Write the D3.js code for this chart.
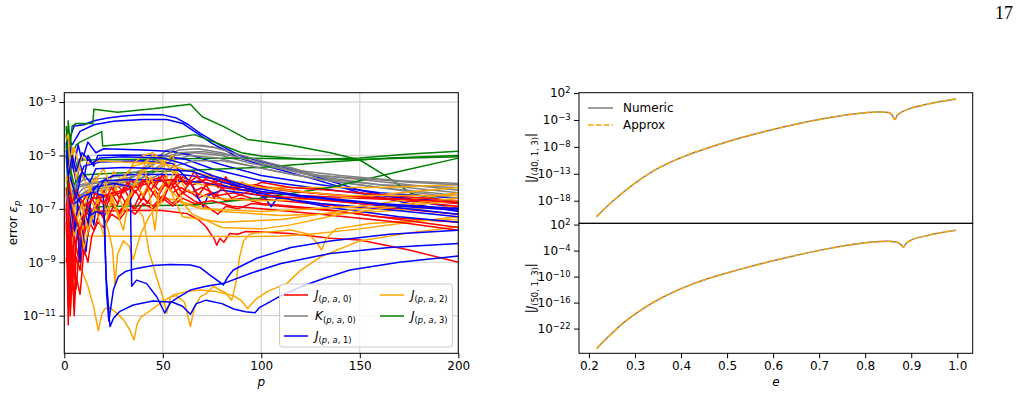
<!DOCTYPE html>
<html>
<head>
<meta charset="utf-8">
<script src="https://cdn.jsdelivr.net/npm/d3@7"></script>
<style>
  body { margin: 0; background: #fff; }
  svg { font-family: "DejaVu Sans", sans-serif; }
</style>
</head>
<body>
<div id="chart"></div>
<script>
"use strict";

// left panel: each line is a list of [p, log10(error)]
var redErr = [
  [[1,-7],[2,-11.35],[2.5,-9.5],[3,-10.2],[4,-8.8],[5,-9.6],[6,-8.2],[8,-7.9],[10,-7.1],[20,-7.08],[35,-7.06],[48.6,-7.05],[62,-7.17],[68,-7.4],[72,-7.67],[74,-7.9],[76,-8.1],[77.4,-8.36],[79,-8.1],[81,-8.25],[84,-7.92],[88,-7.95],[92,-7.85],[97.7,-7.86],[114.6,-7.92],[135,-8.1],[150,-8.17],[175,-8.54],[200,-9.0]],
  [[1,-6.2],[2,-9],[3,-7.5],[4,-10],[5,-8],[7,-8.8],[9,-7.5],[12,-6.8],[15,-7.2],[18,-6.6],[21,-7.0],[24,-6.4],[27,-6.8],[30,-6.2],[33,-6.6],[36,-6.1],[40,-6.5],[44,-6.0],[48,-6.3],[52,-5.9],[56,-6.2],[60,-5.9],[65,-6.1],[70,-6.0],[80,-6.2],[90,-6.3],[100,-6.4],[120,-6.5],[150,-6.6],[180,-6.7],[200,-6.8]],
  [[1,-7.5],[2,-10.5],[3,-8.5],[4,-9.2],[6,-7.2],[8,-8.5],[10,-7.0],[13,-7.3],[16,-6.8],[19,-7.2],[22,-6.6],[26,-7.0],[29,-6.5],[32,-6.9],[36,-6.3],[39,-6.7],[43,-6.2],[47,-6.6],[51,-6.1],[55,-6.4],[59,-6.2],[64,-6.4],[70,-6.2],[78,-6.5],[86,-6.4],[95,-6.6],[110,-6.7],[140,-6.9],[170,-7.0],[200,-7.2]],
  [[2,-8],[3,-11],[4,-9.5],[5,-10.5],[6,-8.8],[8,-9.3],[10,-8.0],[12,-7.4],[15,-7.8],[18,-7.1],[21,-7.5],[25,-6.9],[28,-7.2],[32,-6.6],[35,-7.0],[39,-6.4],[42,-6.8],[46,-6.3],[50,-6.7],[54,-6.0],[58,-6.5],[63,-6.3],[68,-6.6],[74,-6.4],[82,-6.7],[90,-6.6],[100,-6.8],[130,-7.0],[160,-7.3],[200,-7.5]],
  [[1,-6.8],[2,-9.5],[3,-7.8],[5,-9.0],[7,-7.6],[9,-8.4],[11,-7.2],[14,-6.6],[17,-7.0],[20,-6.3],[23,-6.7],[26,-6.0],[30,-6.4],[34,-5.9],[38,-6.3],[42,-5.8],[46,-6.2],[50,-5.7],[55,-6.1],[60,-5.8],[65,-6.0],[72,-5.9],[80,-6.1],[90,-6.3],[105,-6.2],[125,-6.4],[160,-6.6],[200,-6.9]],
  [[2,-7],[3,-9.8],[4,-8.4],[6,-10],[8,-8.1],[10,-8.7],[13,-7.6],[16,-7.0],[20,-7.3],[24,-6.8],[28,-7.1],[32,-6.7],[36,-7.0],[40,-6.6],[45,-6.9],[50,-6.5],[55,-6.8],[60,-6.4],[66,-6.7],[72,-6.9],[78,-7.2],[82,-6.9],[88,-7.0],[95,-6.8],[110,-6.9],[140,-7.1],[170,-7.4],[200,-7.7]],
  [[1,-9],[2,-8],[3,-10.8],[4,-9],[5,-11],[6,-9.5],[8,-10.2],[10,-8.5],[12,-9.0],[14,-8.0],[17,-7.5],[20,-7.7],[24,-7.2],[28,-7.4],[32,-7.0],[36,-7.2],[40,-6.8],[45,-7.0],[50,-6.6],[55,-6.9],[60,-6.6],[66,-6.8],[75,-6.7],[85,-6.9],[100,-7.0],[130,-7.2],[170,-7.5],[200,-7.8]],
  [[3,-6.5],[5,-7.4],[8,-6.9],[12,-6.4],[20,-6.5],[30,-6.3],[40,-6.0],[50,-5.8],[54,-6.3],[58,-5.7],[62,-6.1],[66,-5.6],[70,-6.0],[74,-5.7],[78,-6.2],[82,-5.8],[86,-6.3],[90,-6.0],[95,-6.2],[100,-6.0],[115,-6.2],[135,-6.3],[165,-6.5],[200,-6.7]],
  [[2,-6.0],[4,-6.8],[6,-6.3],[10,-6.9],[15,-6.6],[25,-6.5],[35,-6.2],[45,-6.0],[55,-5.9],[60,-6.4],[64,-6.0],[68,-6.5],[72,-6.1],[76,-6.6],[80,-6.2],[85,-6.6],[92,-6.4],[100,-6.5],[120,-6.6],[150,-6.8],[200,-7.0]],
  [[2,-6.5],[3,-8.8],[5,-7.2],[8,-7.8],[12,-6.9],[16,-6.4],[20,-6.8],[24,-6.2],[28,-6.6],[32,-6.0],[36,-6.4],[40,-5.9],[44,-6.3],[48,-5.8],[53,-6.2],[57,-5.75],[62,-6.1],[67,-5.8],[73,-6.1],[80,-5.9],[88,-6.2],[97,-6.1],[110,-6.3],[140,-6.5],[200,-6.75]]
];

var grayErr = [
  [[1,-6.2],[3,-6.8],[5,-6.4],[8,-6.1],[15,-6.0],[25,-5.95],[35,-5.8],[45,-5.2],[52,-4.8],[60,-4.65],[70,-4.62],[80,-4.75],[90,-5.0],[100,-5.25],[115,-5.45],[135,-5.9],[160,-6.1],[200,-6.2]],
  [[1,-6.5],[3,-7.1],[5,-6.6],[10,-6.2],[20,-6.1],[30,-6.0],[40,-5.6],[50,-5.0],[58,-4.8],[68,-4.75],[80,-4.9],[92,-5.15],[105,-5.4],[125,-5.7],[150,-5.9],[175,-6.1],[200,-6.3]],
  [[2,-6.8],[4,-6.3],[8,-6.5],[15,-6.2],[25,-6.1],[38,-5.9],[48,-5.4],[56,-5.0],[66,-4.9],[80,-5.0],[95,-5.3],[110,-5.5],[130,-5.8],[160,-6.1],[200,-6.4]],
  [[2,-6.0],[5,-6.9],[10,-6.4],[20,-6.3],[32,-6.1],[44,-5.7],[54,-5.2],[64,-5.0],[78,-5.1],[92,-5.35],[108,-5.6],[130,-5.9],[160,-6.2],[200,-6.5]],
  [[3,-7],[6,-6.6],[12,-6.3],[22,-6.2],[34,-6.1],[46,-5.8],[56,-5.4],[66,-5.2],[80,-5.2],[95,-5.4],[115,-5.7],[140,-6.0],[170,-6.3],[200,-6.6]],
  [[4,-6.2],[10,-5.9],[20,-5.85],[30,-5.75],[42,-5.5],[50,-5.1],[58,-4.9],[70,-4.85],[85,-5.0],[100,-5.3],[125,-5.75],[150,-5.85],[175,-6.0],[200,-6.1]],
  [[2,-6.6],[6,-6.2],[14,-6.05],[26,-6.0],[38,-5.7],[48,-5.15],[56,-4.75],[64,-4.6],[76,-4.7],[88,-4.95],[100,-5.2],[118,-5.55],[140,-5.75],[170,-5.95],[200,-6.05]]
];

var blueErr = [
  [[1,-4.0],[3,-4.3],[5,-3.9],[10,-3.85],[15,-3.7],[22,-3.6],[30,-3.52],[40,-3.47],[50,-3.48],[57,-3.6],[63,-3.85],[69,-4.17],[80,-4.65],[89,-5.0],[99,-5.2],[112,-5.45],[125,-5.73],[150,-6.3],[175,-6.67],[200,-6.98]],
  [[1,-4.3],[4,-4.6],[8,-4.1],[15,-3.85],[25,-3.72],[40,-3.65],[52,-3.65],[60,-3.8],[66,-4.1],[75,-4.55],[89,-5.1],[100,-5.35],[125,-5.85],[150,-6.4],[175,-6.8],[200,-7.1]],
  [[1,-4.5],[2,-5.6],[3,-4.7],[5,-5.4],[7,-4.6],[9,-5.2],[12,-4.5],[16,-4.9],[20,-4.75],[40,-4.8],[55,-4.85],[65,-5.0],[80,-5.35],[100,-5.75],[130,-6.1],[160,-6.4],[200,-6.6]],
  [[1,-5.0],[3,-6.2],[4,-5.2],[6,-6.0],[8,-5.3],[10,-5.9],[12,-5.0],[15,-5.4],[17,-5.0],[30,-4.98],[50,-5.0],[62,-5.15],[75,-5.5],[100,-5.95],[130,-6.25],[165,-6.55],[200,-6.75]],
  [[2,-6],[4,-7.3],[6,-6.2],[10,-5.4],[18,-5.25],[40,-5.2],[55,-5.3],[64,-6.0],[68,-6.6],[70.6,-6.92],[73,-6.5],[80,-6.3],[100,-6.5],[130,-6.8],[160,-7.0],[200,-7.3]],
  [[2,-5.5],[3,-7.2],[5,-8.0],[7,-6.6],[9,-6.9],[12,-7.5],[14,-6.4],[18,-6.0],[25,-5.75],[40,-5.7],[60,-5.72],[80,-5.9],[95,-6.3],[102,-6.6],[105,-6.92],[108,-6.6],[120,-6.55],[150,-6.8],[200,-7.2]],
  [[2,-6.5],[4,-8.0],[6,-7.2],[8,-9.0],[9,-7.8],[11,-8.6],[13,-7.0],[15,-7.6],[17,-6.3],[20,-5.95],[35,-5.9],[55,-5.95],[70,-6.0],[85,-6.2],[105,-6.5],[135,-6.95],[170,-7.3],[200,-7.5]],
  [[3,-6.8],[5,-7.8],[7,-6.9],[10,-7.6],[12,-6.6],[15,-6.2],[25,-6.05],[33.5,-6.15],[34.2,-9.9],[36.7,-9.67],[41.8,-9.8],[47,-10.3],[51,-10.9],[54,-10.5],[57,-10.35],[64,-10.04],[72,-9.9],[81,-9.79],[95,-9.4],[110,-9.05],[135,-8.67],[165,-8.45],[200,-8.3]],
  [[5,-6.8],[10,-6.5],[15,-6.4],[19.8,-6.5],[20.5,-8.0],[21.5,-10.2],[22.6,-11.2],[23.4,-10.8],[24.9,-10.04],[27.4,-9.54],[31,-9.35],[36.7,-9.23],[45,-9.12],[53.7,-9.08],[64,-9.1],[69,-9.2],[74,-9.48],[78,-9.7],[80.8,-9.85],[83,-9.55],[85.8,-9.29],[97.7,-8.85],[115,-8.45],[135,-8.2],[165,-7.95],[200,-7.8]],
  [[12,-7.3],[16,-7.1],[20.3,-7.2],[21.2,-9.5],[23.2,-11.41],[25,-11.1],[28,-10.85],[35,-10.6],[45,-10.45],[55,-10.5],[60,-10.65],[64,-10.95],[67,-10.55],[72,-10.42],[80,-10.55],[86,-10.75],[92,-10.85],[96.8,-10.89],[99,-10.7],[103,-10.54],[110,-10.25],[120,-9.92],[132,-9.6],[145,-9.29],[170,-9.0],[200,-8.77]],
  [[1,-4.8],[2,-5.8],[4,-5.0],[6,-5.6],[9,-4.9],[14,-5.3],[18,-5.1],[30,-5.05],[50,-5.1],[60,-5.3],[75,-5.75],[95,-6.2],[120,-6.5],[160,-6.8],[200,-7.0]],
  [[3,-5.8],[6,-6.6],[9,-5.6],[13,-6.0],[16,-5.5],[30,-5.45],[50,-5.5],[65,-5.6],[80,-6.0],[100,-6.35],[130,-6.6],[170,-6.9],[200,-7.05]]
];

var orangeErr = [
  [[1,-5.8],[2,-6.9],[4,-7.6],[6,-8.4],[8.8,-9.3],[12,-9.9],[15,-10.7],[17.3,-11.57],[19,-10.95],[20.7,-10.73],[23,-10.7],[25.7,-10.85],[30,-11.15],[33,-11.5],[35.4,-11.91],[37,-11.3],[39,-11.05],[41.8,-10.91],[48.6,-10.54],[55.3,-10.23],[62,-10.1],[68.9,-10.04],[77,-10.1],[85.8,-10.25],[90,-10.45],[93,-10.73],[97,-10.4],[103,-10.1],[113,-9.79],[120,-9.3],[130,-8.8],[150,-8.2],[175,-7.9],[200,-7.67]],
  [[30,-6.8],[36,-6.9],[40,-7.3],[43,-8.6],[47,-9.6],[50,-10.3],[52,-10.9],[54,-10.3],[57,-10.25],[61,-10.5],[64,-11.41],[66,-10.7],[69,-10.3],[72.3,-10.16],[75.7,-9.9],[79,-10.04],[82,-10.15],[85,-10.42],[87,-9.8],[89,-8.8],[91,-8.2],[94,-7.95],[98,-7.9],[115,-7.79],[124,-7.95],[128,-8.25],[130.6,-8.54],[133,-8.1],[138,-7.75],[155,-7.55],[180,-7.45],[200,-7.4]],
  [[10,-6.2],[14,-6.8],[18,-7.1],[22,-7.7],[24.5,-8.5],[25.7,-9.85],[27,-8.7],[30,-8.2],[33,-8.4],[35,-8.9],[36.5,-8.5],[39,-7.9],[43,-7.3],[47,-6.9],[52,-6.6],[60,-6.75],[80,-7.1],[110,-7.25],[150,-7.15],[200,-6.9]],
  [[3,-5.4],[5,-6.2],[7,-6.8],[9,-7.5],[10,-8.02],[30,-8.03],[60,-8.03],[90,-8.04],[110,-8.02],[125,-7.95],[150,-7.75],[175,-7.5],[200,-7.3]],
  [[1,-6.0],[3,-5.2],[5,-4.7],[8,-5.5],[12,-6.2],[16,-5.8],[20,-6.6],[25,-5.6],[30,-6.0],[35,-5.3],[40,-5.0],[45,-4.9],[50,-5.2],[55,-5.6],[60,-5.9],[70,-6.1],[90,-6.2],[120,-6.2],[160,-6.2],[200,-6.1]],
  [[2,-5.5],[4,-6.5],[7,-7.3],[10,-6.6],[15,-6.0],[20,-5.5],[25,-6.4],[30,-5.8],[35,-5.4],[40,-5.3],[45,-5.0],[50,-5.3],[55,-5.0],[58,-5.8],[62,-6.3],[75,-6.6],[100,-6.7],[140,-6.6],[200,-6.2]],
  [[3,-7],[5,-8],[8,-7.5],[10,-8.5],[14,-7.2],[18,-6.5],[22,-7.2],[26,-6.2],[30,-7.0],[34,-6.3],[38,-5.7],[42,-5.2],[47,-5.6],[50,-5.2],[53,-6.1],[56,-5.5],[60,-6.8],[70,-7.0],[100,-7.1],[150,-6.9],[200,-6.4]],
  [[4,-6.8],[7,-7.6],[10,-7.0],[13,-6.2],[17,-6.8],[21,-6.0],[25,-6.8],[30,-7.8],[33,-6.6],[37,-5.9],[41,-5.5],[44,-6.8],[46,-7.8],[48,-6.4],[52,-5.8],[55,-6.5],[60,-7.3],[80,-7.5],[110,-7.4],[150,-7.0],[200,-6.6]],
  [[6,-7.5],[9,-6.8],[12,-7.8],[16,-7.0],[20,-8.0],[24,-6.5],[28,-7.3],[32,-6.8],[36,-6.0],[40,-6.5],[44,-5.8],[48,-6.9],[52,-6.2],[58,-6.6],[65,-7.2],[80,-7.7],[100,-7.75],[115,-7.6],[140,-7.2],[170,-6.9],[200,-6.7]],
  [[1,-4.4],[2,-4.2],[3,-5.5],[4,-4.7],[6,-5.9],[9,-5.0],[12,-5.3],[18,-5.2],[30,-5.25],[50,-5.3],[70,-5.7],[100,-6.2],[140,-6.5],[200,-6.5]]
];

var greenErr = [
  [[1,-3.9],[1.5,-5.0],[2,-3.7],[3,-4.6],[4,-3.9],[6,-3.8],[14.5,-3.8],[15,-3.27],[27,-3.38],[45,-3.25],[64,-3.08],[70,-3.55],[81,-3.92],[93,-4.4],[115,-4.62],[135,-4.9],[150,-5.17],[164,-5.8],[176,-6.42],[200,-6.8]],
  [[1,-4.2],[2,-5.2],[3,-4.3],[4,-5.0],[6,-4.6],[8,-4.5],[19,-4.11],[19.5,-4.65],[35,-4.55],[50,-4.42],[66,-4.22],[78,-4.55],[90,-4.9],[100,-5.02],[125,-5.15],[150,-5.1],[175,-4.95],[200,-4.84]],
  [[1,-4.6],[2,-6.0],[3,-5.0],[5,-5.6],[7,-5.17],[30,-5.15],[60,-5.12],[90,-5.1],[110,-5.12],[135,-5.15],[150,-5.15],[175,-5.1],[200,-5.05]],
  [[1,-5.0],[2,-6.5],[3,-5.5],[5,-6.1],[8,-5.73],[30,-5.65],[64,-5.55],[99,-5.45],[135,-5.25],[165,-5.1],[200,-5.0]],
  [[2,-5.5],[3,-6.7],[5,-6.2],[8,-6.6],[12,-7.0],[14,-7.35],[18,-6.92],[40,-6.88],[65.5,-6.86],[99,-6.6],[135,-6.2],[170,-5.6],[200,-5.1]]
];

var pTicks = [0, 50, 100, 150, 200];
var errTicks = [-3, -5, -7, -9, -11];

// right panels: eccentricity and log10 |J|
var eccTop = [0.2167,0.242,0.278,0.3146,0.3507,0.387,0.4233,0.4594,0.4957,0.532,0.5717,0.604,0.6441,0.7167,0.7891,0.829,0.8507,0.8594,0.8646,0.869,0.8761,0.8907,0.9341,0.9972];
var logJ40 = [-20.96,-18.85,-16.2,-13.85,-11.95,-10.45,-9.22,-8.15,-7.17,-6.26,-5.36,-4.68,-3.9,-2.65,-1.75,-1.5,-1.62,-2.2,-2.93,-2.19,-1.70,-1.07,-0.09,0.89];
var eccBottom = [0.2167,0.242,0.278,0.3146,0.3507,0.387,0.4233,0.4594,0.4957,0.532,0.5717,0.604,0.6441,0.7167,0.7891,0.847,0.869,0.8776,0.8833,0.8884,0.898,0.9341,0.9972];
var logJ50 = [-26.6,-23.9,-20.4,-17.6,-15.3,-13.4,-11.8,-10.45,-9.3,-8.22,-7.1,-6.25,-5.25,-3.6,-2.35,-1.86,-2.09,-2.62,-3.17,-2.39,-1.70,-0.54,0.68];

var eTicks = [0.2, 0.3, 0.4, 0.5, 0.6, 0.7, 0.8, 0.9, 1.0];
var topTicks = [2, -3, -8, -13, -18];
var bottomTicks = [2, -4, -10, -16, -22];

var width = 1020, height = 394;
var fontSize = 12;

var svg = d3.select('#chart').append('svg')
    .attr('width', width)
    .attr('height', height);

// page number
svg.append('text')
    .attr('x', 1013)
    .attr('y', 19)
    .attr('text-anchor', 'end')
    .style('font-family', '"Liberation Serif", "DejaVu Serif", serif')
    .style('font-size', '18px')
    .text('17');

function pow10(k) { return Math.pow(10, k); }

function expText(k) {
    return (k < 0 ? '\u2212' : '') + Math.abs(k);
}

// replaces the tick text with 10 and a superscript
function sciTicks(g) {
    g.selectAll('.tick text').each(function (d) {
        var t = d3.select(this);
        t.text(null);
        t.append('tspan').text('10');
        t.append('tspan')
            .attr('dy', '-0.5em')
            .style('font-size', (fontSize * 0.7) + 'px')
            .text(expText(Math.round(Math.log10(d))));
    });
}

function styleAxis(g) {
    g.attr('font-family', null).attr('font-size', null)
        .style('font-size', fontSize + 'px');
    g.select('.domain').remove();
    g.selectAll('.tick line').attr('stroke', '#000').attr('stroke-width', 1);
}

// writes "main" + subscript parts; parts are [text, italic]
function mathText(sel, pre, main, parts, post, size) {
    var sub = size * 0.7;
    if (pre) sel.append('tspan').text(pre);
    sel.append('tspan').style('font-style', 'italic').text(main);
    parts.forEach(function (p, i) {
        var ts = sel.append('tspan').style('font-size', sub + 'px').text(p[0]);
        if (p[1]) ts.style('font-style', 'italic');
        if (i === 0) ts.attr('dy', size * 0.28);
    });
    if (post) sel.append('tspan').attr('dy', -size * 0.28).text(post);
}

/* ---------- left panel ---------- */
var L = { x0: 64.3, x1: 458.3, y0: 92.7, y1: 353.3 };
var x = d3.scaleLinear().domain([0, 200]).range([L.x0, L.x1]);
var y = d3.scaleLog().domain([pow10(-12.41), pow10(-2.65)]).range([L.y1, L.y0]);

svg.append('clipPath').attr('id', 'clipLeft')
    .append('rect')
    .attr('x', L.x0).attr('y', L.y0)
    .attr('width', L.x1 - L.x0).attr('height', L.y1 - L.y0);

var grid = svg.append('g').attr('stroke', '#d3d3d3').attr('stroke-width', 1.2);
grid.selectAll('line.vx')
    .data(pTicks)
    .enter().append('line')
    .attr('x1', function (d) { return x(d); })
    .attr('x2', function (d) { return x(d); })
    .attr('y1', L.y0).attr('y2', L.y1);
grid.selectAll('line.hy')
    .data(errTicks)
    .enter().append('line')
    .attr('y1', function (d) { return y(pow10(d)); })
    .attr('y2', function (d) { return y(pow10(d)); })
    .attr('x1', L.x0).attr('x2', L.x1);

var families = [
    { lines: redErr, color: 'red' },
    { lines: grayErr, color: 'gray' },
    { lines: blueErr, color: 'blue' },
    { lines: orangeErr, color: 'orange' },
    { lines: greenErr, color: 'green' }
];

// interleave families like a loop over a
var drawList = [];
var nMax = d3.max(families, function (f) { return f.lines.length; });
for (var i = 0; i < nMax; i++) {
    families.forEach(function (f) {
        if (f.lines[i]) drawList.push({ pts: f.lines[i], color: f.color });
    });
}

var errLine = d3.line()
    .x(function (d) { return x(d[0]); })
    .y(function (d) { return y(pow10(d[1])); });

svg.append('g')
    .attr('clip-path', 'url(#clipLeft)')
    .selectAll('path')
    .data(drawList)
    .enter().append('path')
    .attr('d', function (d) { return errLine(d.pts); })
    .attr('fill', 'none')
    .attr('stroke', function (d) { return d.color; })
    .attr('stroke-width', 1.5)
    .attr('stroke-linejoin', 'round');

svg.append('g')
    .attr('transform', 'translate(0,' + L.y1 + ')')
    .call(d3.axisBottom(x).tickValues(pTicks).tickSize(5).tickPadding(3.5))
    .call(styleAxis);

svg.append('g')
    .attr('transform', 'translate(' + L.x0 + ',0)')
    .call(d3.axisLeft(y).tickValues(errTicks.map(pow10)).tickSize(5).tickPadding(3.5).tickFormat(''))
    .call(styleAxis)
    .call(sciTicks);

svg.append('rect')
    .attr('x', L.x0).attr('y', L.y0)
    .attr('width', L.x1 - L.x0).attr('height', L.y1 - L.y0)
    .attr('fill', 'none').attr('stroke', '#000').attr('stroke-width', 1);

svg.append('text')
    .attr('x', (L.x0 + L.x1) / 2)
    .attr('y', 386)
    .attr('text-anchor', 'middle')
    .style('font-size', fontSize + 'px')
    .style('font-style', 'italic')
    .text('p');

var yl = svg.append('text')
    .attr('transform', 'translate(16.5,' + ((L.y0 + L.y1) / 2) + ') rotate(-90)')
    .attr('text-anchor', 'middle')
    .style('font-size', fontSize + 'px');
yl.append('tspan').text('error ');
yl.append('tspan').style('font-style', 'italic').text('\u03b5');
yl.append('tspan').attr('dy', 3).style('font-style', 'italic')
    .style('font-size', (fontSize * 0.7) + 'px').text('p');

// legend
var legendItems = [
    { color: 'red', main: 'J', idx: '0', x: 284, y: 295 },
    { color: 'gray', main: 'K', idx: '0', x: 284, y: 316 },
    { color: 'blue', main: 'J', idx: '1', x: 284, y: 336 },
    { color: 'orange', main: 'J', idx: '2', x: 380, y: 295 },
    { color: 'green', main: 'J', idx: '3', x: 380, y: 316 }
];
var leg = svg.append('g');
leg.append('rect')
    .attr('x', 279.5).attr('y', 284)
    .attr('width', 173).attr('height', 63)
    .attr('rx', 3)
    .attr('fill', '#fff').attr('fill-opacity', 0.8)
    .attr('stroke', '#cccccc').attr('stroke-width', 1);
legendItems.forEach(function (d) {
    leg.append('line')
        .attr('x1', d.x).attr('x2', d.x + 24)
        .attr('y1', d.y).attr('y2', d.y)
        .attr('stroke', d.color).attr('stroke-width', 1.5);
    var t = leg.append('text')
        .attr('x', d.x + 31).attr('y', d.y + 4)
        .style('font-size', fontSize + 'px');
    mathText(t, null, d.main, [['(', false], ['p', true], [', ', false], ['a', true], [', ' + d.idx + ')', false]], null, fontSize);
});

/* ---------- right panels ---------- */
var R = { x0: 579, x1: 972.7, y0: 92.7, ym: 223.3, y1: 353.3 };
var ex = d3.scaleLinear().domain([0.1784, 1.0335]).range([R.x0, R.x1]);
var yTop = d3.scaleLog().domain([pow10(-22.2), pow10(2.07)]).range([R.ym, R.y0]);
var yBot = d3.scaleLog().domain([pow10(-27.7), pow10(2.3)]).range([R.y1, R.ym]);

function panel(ecc, logJ, ys, ticks, label) {
    var pts = ecc.map(function (e, k) { return [e, logJ[k]]; });
    var line = d3.line()
        .curve(d3.curveMonotoneX)
        .x(function (d) { return ex(d[0]); })
        .y(function (d) { return ys(pow10(d[1])); });
    svg.append('path')
        .attr('d', line(pts))
        .attr('fill', 'none')
        .attr('stroke', 'gray')
        .attr('stroke-width', 1.5);
    svg.append('path')
        .attr('d', line(pts))
        .attr('fill', 'none')
        .attr('stroke', 'orange')
        .attr('stroke-width', 1.5)
        .attr('stroke-dasharray', '5.5,2.4');
    svg.append('g')
        .attr('transform', 'translate(' + R.x0 + ',0)')
        .call(d3.axisLeft(ys).tickValues(ticks.map(pow10)).tickSize(5).tickPadding(3.5).tickFormat(''))
        .call(styleAxis)
        .call(sciTicks);
    var r = ys.range();
    svg.append('rect')
        .attr('x', R.x0).attr('y', r[1])
        .attr('width', R.x1 - R.x0).attr('height', r[0] - r[1])
        .attr('fill', 'none').attr('stroke', '#000').attr('stroke-width', 1);
    var t = svg.append('text')
        .attr('transform', 'translate(535,' + ((r[0] + r[1]) / 2) + ') rotate(-90)')
        .attr('text-anchor', 'middle')
        .style('font-size', fontSize + 'px');
    mathText(t, '|', 'J', [[label, false]], '|', fontSize);
}

panel(eccTop, logJ40, yTop, topTicks, '(40, 1, 3)');
panel(eccBottom, logJ50, yBot, bottomTicks, '(50, 1, 3)');

svg.append('g')
    .attr('transform', 'translate(0,' + R.y1 + ')')
    .call(d3.axisBottom(ex).tickValues(eTicks).tickSize(5).tickPadding(3.5).tickFormat(d3.format('.1f')))
    .call(styleAxis);

svg.append('text')
    .attr('x', (R.x0 + R.x1) / 2)
    .attr('y', 386)
    .attr('text-anchor', 'middle')
    .style('font-size', fontSize + 'px')
    .style('font-style', 'italic')
    .text('e');

// legend of the right panel
var rl = svg.append('g');
[{ name: 'Numeric', color: 'gray', dash: null, y: 108 },
 { name: 'Approx', color: 'orange', dash: '5.5,2.4', y: 125 }].forEach(function (d) {
    rl.append('line')
        .attr('x1', 588).attr('x2', 613)
        .attr('y1', d.y).attr('y2', d.y)
        .attr('stroke', d.color).attr('stroke-width', 1.5)
        .attr('stroke-dasharray', d.dash);
    rl.append('text')
        .attr('x', 623).attr('y', d.y + 4.3)
        .style('font-size', fontSize + 'px')
        .text(d.name);
});
</script>
</body>
</html>
